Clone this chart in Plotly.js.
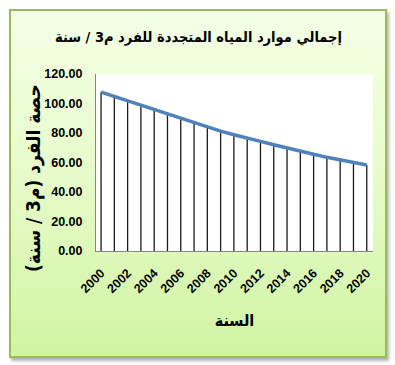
<!DOCTYPE html>
<html>
<head>
<meta charset="utf-8">
<script src="https://cdn.plot.ly/plotly-3.0.1.min.js"></script>
<style>
  html, body { margin: 0; padding: 0; background: #ffffff; }
  #wrap { position: relative; width: 395px; height: 365px; }
  #frame {
    position: absolute; left: 9px; top: 9px; width: 374px; height: 345px;
    border: 2px solid #9bbb59;
    background: linear-gradient(to bottom, #f4ffe6 0%, #e6fbc8 50%, #d0f4a2 100%);
    box-shadow: 2px 3px 3px rgba(0,0,0,0.3);
  }
  #chart { position: absolute; left: 0; top: 0; width: 395px; height: 365px; }
</style>
</head>
<body>
<div id="wrap">
  <div id="frame"></div>
  <div id="chart"></div>
</div>
<script>
const years = [2000, 2001, 2002, 2003, 2004, 2005, 2006, 2007, 2008, 2009, 2010,
               2011, 2012, 2013, 2014, 2015, 2016, 2017, 2018, 2019, 2020];
const perCapita = [107.7, 104.8, 101.4, 98.4, 95.6, 92.7, 89.7, 87.0, 84.5, 81.3, 78.8,
                   76.3, 74.3, 72.0, 69.7, 67.6, 65.6, 63.5, 61.7, 59.9, 58.3];
const chartTitle = 'إجمالي موارد المياه المتجددة للفرد م3 / سنة';
const yTitle = '\u200Fحصة الفرد (م3 / سنة)\u200F';
const xTitle = 'السنة';

// drop lines built from the data
const dropX = [], dropY = [];
years.forEach((yr, i) => { dropX.push(yr, yr, null); dropY.push(0, perCapita[i], null); });

const arabicFont = 'DejaVu Sans Condensed, DejaVu Sans, sans-serif';
const numFont = 'Liberation Sans Narrow, Liberation Sans, Arial, sans-serif';

const data = [
  { x: dropX, y: dropY, type: 'scatter', mode: 'lines',
    line: { color: '#1a1a1a', width: 1.3 }, hoverinfo: 'skip', showlegend: false },
  { x: years, y: perCapita, type: 'scatter', mode: 'lines',
    line: { color: '#4f81bd', width: 3.5 }, showlegend: false }
];

const layout = {
  width: 395, height: 365,
  paper_bgcolor: 'rgba(0,0,0,0)',
  plot_bgcolor: '#ffffff',
  margin: { l: 96, r: 22, t: 74, b: 114 },
  xaxis: {
    range: [1999.62, 2020.47], tick0: 2000, dtick: 2, tickformat: 'd', tickangle: -45,
    showgrid: false, zeroline: false, showline: true, linecolor: '#868686', linewidth: 1,
    ticks: 'outside', ticklen: 9, tickcolor: 'rgba(0,0,0,0)',
    tickfont: { family: numFont, size: 12.5, color: '#000', weight: 'bold' },
    title: { text: '<b>' + xTitle + '</b>', font: { family: arabicFont, size: 16, color: '#000' }, standoff: 19 }
  },
  yaxis: {
    range: [0, 120], dtick: 20, tickformat: '.2f',
    showgrid: false, zeroline: false, showline: true, linecolor: '#868686', linewidth: 1,
    ticks: 'outside', ticklen: 10, tickcolor: 'rgba(0,0,0,0)',
    tickfont: { family: numFont, size: 12.5, color: '#000', weight: 'bold' }
  },
  annotations: [
    { text: '<b>' + chartTitle + '</b>', xref: 'paper', yref: 'paper',
      x: (198 - 96) / 277, y: (251 - 37) / 177, xanchor: 'center', yanchor: 'middle',
      showarrow: false, font: { family: arabicFont, size: 14.5, color: '#000' } },
    { text: '<b>' + yTitle + '</b>', xref: 'paper', yref: 'paper', textangle: -90,
      x: (33 - 96) / 277, y: (251 - 178) / 177, xanchor: 'center', yanchor: 'middle',
      showarrow: false, font: { family: arabicFont, size: 19, color: '#000' } }
  ]
};

Plotly.newPlot('chart', data, layout, { displayModeBar: false, staticPlot: true });
</script>
</body>
</html>
